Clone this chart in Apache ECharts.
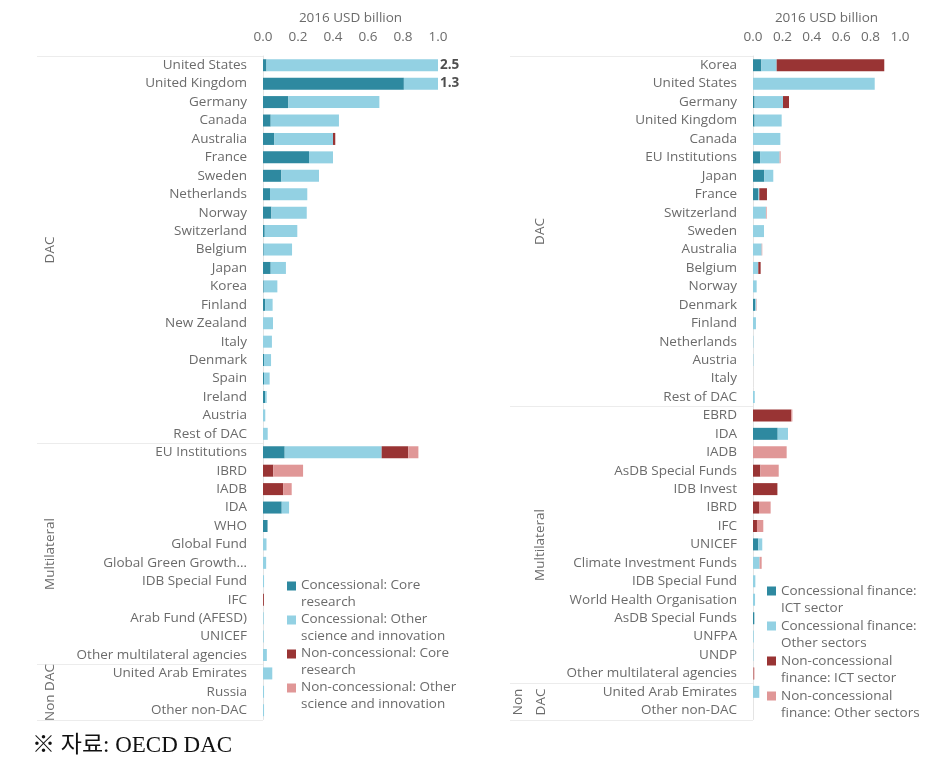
<!DOCTYPE html>
<html><head><meta charset="utf-8">
<script src="https://cdn.jsdelivr.net/npm/echarts@6/dist/echarts.min.js"></script>
<style>html,body{margin:0;padding:0;background:#fff}#c{width:939px;height:765px}</style>
</head><body><div id="c"></div><script>
// ---------- LEFT PANEL DATA (science & innovation) ----------
const leftCategories = ['United States','United Kingdom','Germany','Canada','Australia','France','Sweden','Netherlands','Norway','Switzerland','Belgium','Japan','Korea','Finland','New Zealand','Italy','Denmark','Spain','Ireland','Austria','Rest of DAC',
  'EU Institutions','IBRD','IADB','IDA','WHO','Global Fund','Global Green Growth…','IDB Special Fund','IFC','Arab Fund (AFESD)','UNICEF','Other multilateral agencies',
  'United Arab Emirates','Russia','Other non-DAC'];
const leftConcCore  = [0.02,0.805,0.145,0.044,0.065,0.263,0.105,0.04,0.048,0.01,0.004,0.044,0.004,0.012,0,0,0.006,0.006,0.012,0,0,
  0.124,0,0,0.107,0.026,0,0,0,0,0,0,0, 0,0,0];
const leftConcOther = [2.48,0.495,0.52,0.39,0.335,0.137,0.215,0.213,0.202,0.186,0.162,0.087,0.078,0.043,0.057,0.051,0.04,0.032,0.009,0.013,0.027,
  0.554,0,0,0.042,0,0.02,0.018,0.006,0,0.004,0.004,0.022, 0.053,0.006,0.006];
const leftNonCore   = [0,0,0,0,0.013,0,0,0,0,0,0,0,0,0,0,0,0,0,0,0,0,
  0.152,0.059,0.116,0,0,0,0,0,0.005,0,0,0, 0,0,0];
const leftNonOther  = [0,0,0,0,0,0,0,0,0,0,0,0,0,0,0,0,0,0,0,0,0,
  0.058,0.17,0.048,0,0,0,0,0,0,0,0,0, 0,0,0];
const leftSeriesNames = ['Concessional: Core research','Concessional: Other science and innovation','Non-concessional: Core research','Non-concessional: Other science and innovation'];
const leftLegendText = ['Concessional: Core\nresearch','Concessional: Other\nscience and innovation','Non-concessional: Core\nresearch','Non-concessional: Other\nscience and innovation'];
const leftGroupNames = ['DAC','Multilateral','Non DAC'];
const leftGroupStart = [0,21,33];
const leftGroupEnd   = [20,32,35];

// ---------- RIGHT PANEL DATA (ICT) ----------
const rightCategories = ['Korea','United States','Germany','United Kingdom','Canada','EU Institutions','Japan','France','Switzerland','Sweden','Australia','Belgium','Norway','Denmark','Finland','Netherlands','Austria','Italy','Rest of DAC',
  'EBRD','IDA','IADB','AsDB Special Funds','IDB Invest','IBRD','IFC','UNICEF','Climate Investment Funds','IDB Special Fund','World Health Organisation','AsDB Special Funds','UNFPA','UNDP','Other multilateral agencies',
  'United Arab Emirates','Other non-DAC'];
const rightConcICT   = [0.057,0,0.011,0.011,0,0.048,0.077,0.034,0,0,0,0,0,0.014,0,0,0,0,0,
  0,0.168,0,0,0,0,0,0.036,0,0,0,0.009,0,0,0, 0,0];
const rightConcOther = [0.104,0.828,0.193,0.184,0.186,0.133,0.061,0.009,0.088,0.075,0.059,0.036,0.025,0.008,0.02,0.003,0.003,0,0.012,
  0,0.07,0,0,0,0,0,0.027,0.045,0.016,0.014,0,0.005,0.003,0, 0.043,0];
const rightNonICT    = [0.732,0,0.041,0,0,0,0,0.052,0,0,0,0.016,0,0,0,0,0,0,0,
  0.261,0,0,0.05,0.166,0.041,0.027,0,0,0,0,0,0,0,0.004, 0,0];
const rightNonOther  = [0,0,0,0,0,0.007,0,0,0.005,0,0.004,0,0,0.003,0,0,0,0,0,
  0.007,0,0.229,0.125,0,0.079,0.043,0,0.014,0,0,0,0,0,0.006, 0,0];
const rightSeriesNames = ['Concessional finance: ICT sector','Concessional finance: Other sectors','Non-concessional finance: ICT sector','Non-concessional finance: Other sectors'];
const rightLegendText = ['Concessional finance:\nICT sector','Concessional finance:\nOther sectors','Non-concessional\nfinance: ICT sector','Non-concessional\nfinance: Other sectors'];
const rightGroupNames = ['DAC','Multilateral','Non\nDAC'];
const rightGroupStart = [0,19,34];
const rightGroupEnd   = [18,33,35];

const axisMin = 0, axisMax = 1.0, axisStep = 0.2;
const axisTitle = '2016 USD billion';
const sourceNote = '※ 자료: OECD DAC';

// ---------- STYLE ----------
const colors = ['#2e89a0','#93d1e3','#993434','#e09797'];
const FONT = '"Open Sans","Noto Sans",sans-serif';
const GREY = '#6b6b6b';

const chart = echarts.init(document.getElementById('c'), null, {renderer:'canvas'});

function xAxisCfg(gi){
  return {gridIndex:gi, type:'value', position:'top', min:axisMin, max:axisMax, interval:axisStep,
    name:axisTitle, nameLocation:'middle', nameGap:31,
    nameTextStyle:{color:GREY, fontSize:13.5, fontFamily:FONT},
    axisLine:{show:false}, axisTick:{show:false}, splitLine:{show:false},
    axisLabel:{color:GREY, fontSize:13.5, fontFamily:FONT, margin:12, formatter:v=>v.toFixed(1)}};
}
function yAxisCfg(gi, cats){
  return {gridIndex:gi, type:'category', inverse:true, data:cats,
    axisLine:{show:true, lineStyle:{color:'#e4e4e4', width:1}}, axisTick:{show:false},
    axisLabel:{color:GREY, fontSize:13.5, fontFamily:FONT, margin:16, interval:0}};
}
function barSeries(names, arrays, idx, stack){
  return arrays.map((arr,k)=>({
    name:names[k], type:'bar', stack:stack, xAxisIndex:idx, yAxisIndex:idx,
    barWidth:12, clip:true, itemStyle:{color:colors[k]}, emphasis:{disabled:true},
    data:arr
  }));
}
function groupSeries(idx, names, starts, ends, lineLeft, labelX){
  return {type:'custom', xAxisIndex:idx, yAxisIndex:idx, silent:true, z:1, clip:false,
    data: starts.map((s,i)=>[0, s, ends[i]]),
    encode:{x:0, y:1},
    renderItem(params, api){
      const i = params.dataIndex;
      const s = api.value(1), e = api.value(2);
      const band = api.size([0,1])[1];
      const p0 = api.coord([0,s]), p1 = api.coord([0,e]);
      const top = Math.round(p0[1]-band/2)+0.5, bot = Math.round(p1[1]+band/2)+0.5;
      const ch = [{type:'line', shape:{x1:lineLeft,y1:top,x2:p0[0],y2:top}, style:{stroke:'#ececec', lineWidth:1}}];
      if (i === names.length-1) ch.push({type:'line', shape:{x1:lineLeft,y1:bot,x2:p0[0],y2:bot}, style:{stroke:'#ececec', lineWidth:1}});
      ch.push({type:'text', x:labelX[i], y:(top+bot)/2, rotation:Math.PI/2,
        style:{text:names[i], align:'center', verticalAlign:'middle', fill:GREY, fontSize:13.5, fontFamily:FONT, lineHeight:23}});
      return {type:'group', children:ch};
    }};
}
function cappedLabels(idx, arrays){
  const pts = [];
  arrays[0].forEach((_,i)=>{
    const t = arrays.reduce((a,arr)=>a+arr[i],0);
    if (t > axisMax) pts.push([axisMax, i, t]);
  });
  return {type:'scatter', xAxisIndex:idx, yAxisIndex:idx, symbolSize:0, silent:true, z:5,
    data:pts, label:{show:true, position:'right', distance:2, color:'#222', fontSize:13.5, fontWeight:'bold', fontFamily:FONT,
      formatter:p=>p.value[2].toFixed(1)}};
}
// square icon sitting at the top of a tall item box, so it lines up with the first text line
function legendCfg(names, texts, left, top, lh){
  const h = 2*lh - 9;
  return {data:names, orient:'vertical', left:left, top:top, padding:0, itemGap:0,
    icon:'path://M0,0h9v9h-9z M0,' + h + 'h0.01v0.01h-0.01z', itemWidth:9, itemHeight:h,
    formatter:n=>texts[names.indexOf(n)],
    textStyle:{color:GREY, fontSize:13.5, fontFamily:FONT, lineHeight:lh}};
}

const leftArrays = [leftConcCore,leftConcOther,leftNonCore,leftNonOther];
const rightArrays = [rightConcICT,rightConcOther,rightNonICT,rightNonOther];

chart.setOption({
  animation:false,
  title:{text:sourceNote, left:27, top:729, textStyle:{fontFamily:'"Liberation Serif","DejaVu Serif","Noto Sans CJK KR",serif', fontSize:23, fontWeight:'normal', color:'#111'}},
  grid:[{left:263, width:175, top:56, height:663.5},{left:753, width:147, top:56, height:663.5}],
  xAxis:[xAxisCfg(0), xAxisCfg(1)],
  yAxis:[yAxisCfg(0,leftCategories), yAxisCfg(1,rightCategories)],
  legend:[legendCfg(leftSeriesNames,leftLegendText,287,577,17), legendCfg(rightSeriesNames,rightLegendText,767,582,17.5)],
  series:[
    ...barSeries(leftSeriesNames,leftArrays,0,'L'),
    ...barSeries(rightSeriesNames,rightArrays,1,'R'),
    cappedLabels(0,leftArrays),
    groupSeries(0,leftGroupNames,leftGroupStart,leftGroupEnd,37,[50,50,50]),
    groupSeries(1,rightGroupNames,rightGroupStart,rightGroupEnd,510,[540,540,530])
  ]
});
</script></body></html>
